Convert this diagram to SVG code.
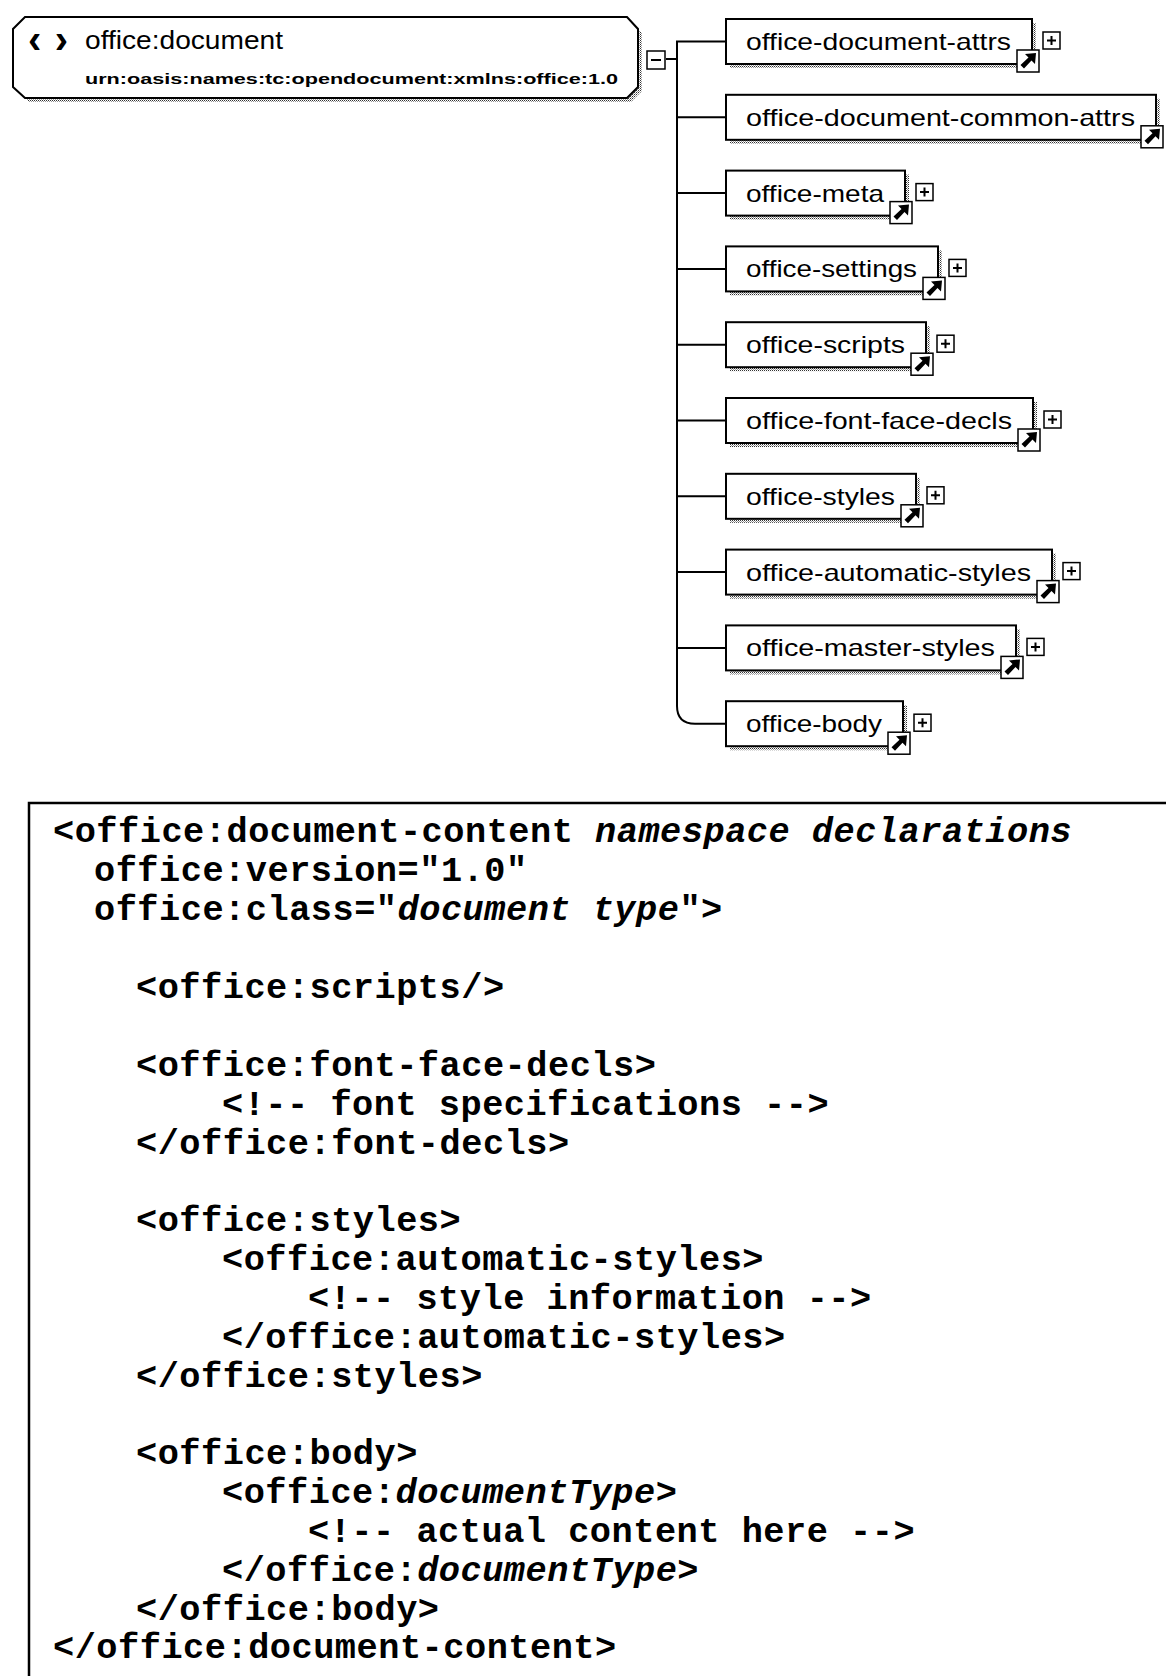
<svg xmlns="http://www.w3.org/2000/svg" xmlns:xlink="http://www.w3.org/1999/xlink" width="1166" height="1676" viewBox="0 0 1166 1676">
<style>
.bg{fill:#fff}
.box{fill:#fff;stroke:#000;stroke-width:2}
.shadow{fill:url(#dots)}
.lbl{font-family:"Liberation Sans",Arial,sans-serif;font-size:24px;fill:#000}
.title{font-family:"Liberation Sans",Arial,sans-serif;font-size:25px;fill:#000}
.chev{font-family:"Liberation Sans",Arial,sans-serif;font-size:40px;font-weight:bold;fill:#000}
.ns{font-family:"Liberation Sans",Arial,sans-serif;font-size:15px;font-weight:bold;fill:#000}
.conn{fill:none;stroke:#000;stroke-width:2}
.icon{fill:#fff;stroke:#000;stroke-width:1.5}
.code{font-family:"Liberation Mono","Courier New",monospace;font-weight:bold;font-size:35.3px;letter-spacing:0.5px;fill:#000}
.it{font-style:italic}
</style>
<defs>
<pattern id="dots" width="2" height="2" patternUnits="userSpaceOnUse"><rect width="1" height="1" fill="#333"/><rect x="1" y="1" width="1" height="1" fill="#999"/></pattern>
<g id="plus"><rect x="0" y="0" width="17" height="17" class="icon"/><path d="M4,8.5H13M8.5,4V13" stroke="#000" stroke-width="2"/></g>
<g id="arrow"><rect x="0" y="0" width="22" height="22" class="icon"/><path d="M19,3 L18,14 L14.5,10.5 L7,18.5 L3.5,15 L11.5,7.5 L8,4 Z" fill="#000"/></g>
</defs>
<rect class="bg" x="0" y="0" width="1166" height="1676"/>

<g id="connectors">
<path class="conn" d="M666,59H677"/>
<path class="conn" d="M726,41.5H677V706Q677,723.7 695,723.7H726"/>
<path class="conn" d="M677,117.3H726M677,193.1H726M677,268.9H726M677,344.7H726M677,420.5H726M677,496.3H726M677,572.1H726M677,647.9H726"/>
</g>

<g id="office-document">
<path class="shadow" d="M29,21 H631 L642,33 V91 L631,102 H29 L17,91 V33 Z"/>
<path class="box" d="M25,17 H627 L638,29 V87 L627,98 H25 L13,87 V29 Z"/>
<text class="chev" x="28" y="53" textLength="40" lengthAdjust="spacing">‹›</text>
<text class="title" x="85" y="49" textLength="198" lengthAdjust="spacingAndGlyphs">office:document</text>
<text class="ns" x="85" y="84" textLength="533" lengthAdjust="spacingAndGlyphs">urn:oasis:names:tc:opendocument:xmlns:office:1.0</text>
<g id="collapse"><rect x="647" y="51" width="18" height="18" class="icon"/><path d="M651,60H661" stroke="#000" stroke-width="2"/></g>
</g>

<g id="office-document-attrs">
<rect class="shadow" x="730" y="23" width="306" height="45"/>
<rect class="box" x="726" y="19" width="306" height="45"/>
<text class="lbl" x="746" y="50" textLength="265" lengthAdjust="spacingAndGlyphs">office-document-attrs</text>
<use xlink:href="#arrow" x="1017" y="50"/>
<use xlink:href="#plus" x="1043" y="32"/>
</g>

<g id="office-document-common-attrs">
<rect class="shadow" x="730" y="98.8" width="430" height="45"/>
<rect class="box" x="726" y="94.8" width="430" height="45"/>
<text class="lbl" x="746" y="125.8" textLength="389" lengthAdjust="spacingAndGlyphs">office-document-common-attrs</text>
<use xlink:href="#arrow" x="1141" y="125.8"/>
</g>

<g id="office-meta">
<rect class="shadow" x="730" y="174.6" width="179" height="45"/>
<rect class="box" x="726" y="170.6" width="179" height="45"/>
<text class="lbl" x="746" y="201.6" textLength="138" lengthAdjust="spacingAndGlyphs">office-meta</text>
<use xlink:href="#arrow" x="890" y="201.6"/>
<use xlink:href="#plus" x="916" y="183.6"/>
</g>

<g id="office-settings">
<rect class="shadow" x="730" y="250.4" width="212" height="45"/>
<rect class="box" x="726" y="246.4" width="212" height="45"/>
<text class="lbl" x="746" y="277.4" textLength="171" lengthAdjust="spacingAndGlyphs">office-settings</text>
<use xlink:href="#arrow" x="923" y="277.4"/>
<use xlink:href="#plus" x="949" y="259.4"/>
</g>

<g id="office-scripts">
<rect class="shadow" x="730" y="326.2" width="200" height="45"/>
<rect class="box" x="726" y="322.2" width="200" height="45"/>
<text class="lbl" x="746" y="353.2" textLength="159" lengthAdjust="spacingAndGlyphs">office-scripts</text>
<use xlink:href="#arrow" x="911" y="353.2"/>
<use xlink:href="#plus" x="937" y="335.2"/>
</g>

<g id="office-font-face-decls">
<rect class="shadow" x="730" y="402" width="307" height="45"/>
<rect class="box" x="726" y="398" width="307" height="45"/>
<text class="lbl" x="746" y="429" textLength="266" lengthAdjust="spacingAndGlyphs">office-font-face-decls</text>
<use xlink:href="#arrow" x="1018" y="429"/>
<use xlink:href="#plus" x="1044" y="411"/>
</g>

<g id="office-styles">
<rect class="shadow" x="730" y="477.8" width="190" height="45"/>
<rect class="box" x="726" y="473.8" width="190" height="45"/>
<text class="lbl" x="746" y="504.8" textLength="149" lengthAdjust="spacingAndGlyphs">office-styles</text>
<use xlink:href="#arrow" x="901" y="504.8"/>
<use xlink:href="#plus" x="927" y="486.8"/>
</g>

<g id="office-automatic-styles">
<rect class="shadow" x="730" y="553.6" width="326" height="45"/>
<rect class="box" x="726" y="549.6" width="326" height="45"/>
<text class="lbl" x="746" y="580.6" textLength="285" lengthAdjust="spacingAndGlyphs">office-automatic-styles</text>
<use xlink:href="#arrow" x="1037" y="580.6"/>
<use xlink:href="#plus" x="1063" y="562.6"/>
</g>

<g id="office-master-styles">
<rect class="shadow" x="730" y="629.4" width="290" height="45"/>
<rect class="box" x="726" y="625.4" width="290" height="45"/>
<text class="lbl" x="746" y="656.4" textLength="249" lengthAdjust="spacingAndGlyphs">office-master-styles</text>
<use xlink:href="#arrow" x="1001" y="656.4"/>
<use xlink:href="#plus" x="1027" y="638.4"/>
</g>

<g id="office-body">
<rect class="shadow" x="730" y="705.2" width="177" height="45"/>
<rect class="box" x="726" y="701.2" width="177" height="45"/>
<text class="lbl" x="746" y="732.2" textLength="136" lengthAdjust="spacingAndGlyphs">office-body</text>
<use xlink:href="#arrow" x="888" y="732.2"/>
<use xlink:href="#plus" x="914" y="714.2"/>
</g>

<g id="code-listing">
<path d="M29,1680V803H1170" fill="none" stroke="#000" stroke-width="2.5"/>
<text class="code" x="53" y="842">&lt;office:document-content <tspan class="it">namespace declarations</tspan></text>
<text class="code" x="94" y="881">office:version=&quot;1.0&quot;</text>
<text class="code" x="94" y="920">office:class=&quot;<tspan class="it">document type</tspan>&quot;&gt;</text>
<text class="code" x="136" y="998">&lt;office:scripts/&gt;</text>
<text class="code" x="136" y="1076">&lt;office:font-face-decls&gt;</text>
<text class="code" x="222" y="1114.5">&lt;!-- font specifications --&gt;</text>
<text class="code" x="136" y="1153.5">&lt;/office:font-decls&gt;</text>
<text class="code" x="136" y="1231">&lt;office:styles&gt;</text>
<text class="code" x="222" y="1270">&lt;office:automatic-styles&gt;</text>
<text class="code" x="308" y="1309">&lt;!-- style information --&gt;</text>
<text class="code" x="222" y="1347.5">&lt;/office:automatic-styles&gt;</text>
<text class="code" x="136" y="1386.5">&lt;/office:styles&gt;</text>
<text class="code" x="136" y="1464">&lt;office:body&gt;</text>
<text class="code" x="222" y="1503">&lt;office:<tspan class="it">documentType</tspan>&gt;</text>
<text class="code" x="308" y="1542">&lt;!-- actual content here --&gt;</text>
<text class="code" x="222" y="1581">&lt;/office:<tspan class="it">documentType</tspan>&gt;</text>
<text class="code" x="136" y="1619.5">&lt;/office:body&gt;</text>
<text class="code" x="53" y="1658">&lt;/office:document-content&gt;</text>
</g>
</svg>
